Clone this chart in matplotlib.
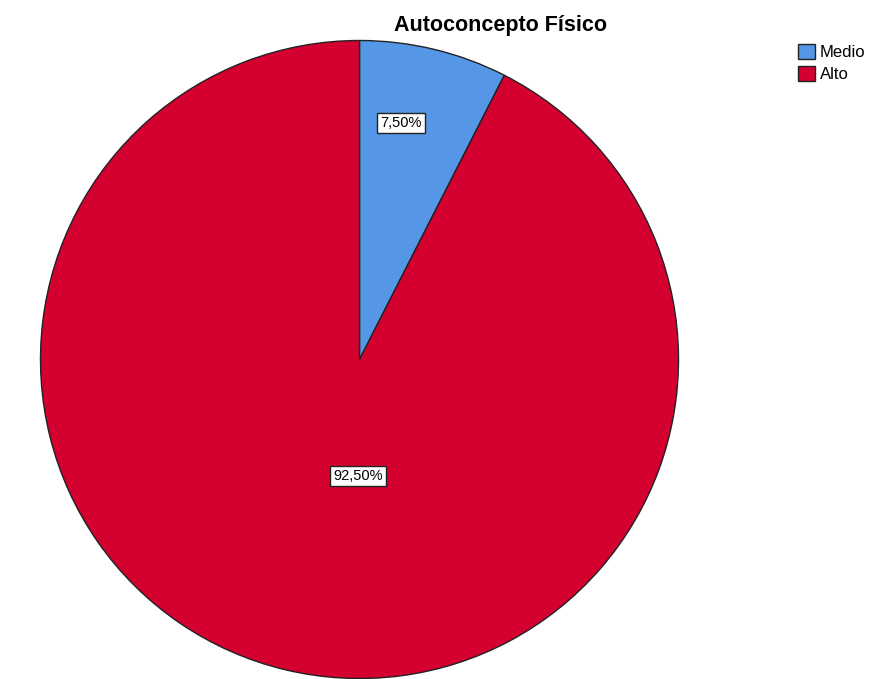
import matplotlib
matplotlib.use("Agg")
import matplotlib.pyplot as plt
from matplotlib.patches import Patch

categories = ["Medio", "Alto"]
values = [7.5, 92.5]
labels = ["7,50%", "92,50%"]
colors = ["#5597E6", "#D40030"]
title = "Autoconcepto Físico"

plt.rcParams['font.family'] = ['Liberation Sans', 'DejaVu Sans']

W, H = 871, 679
fig = plt.figure(figsize=(W / 100, H / 100), dpi=100)
cx, cy, r = 359.5, 359.5, 319
ax = fig.add_axes([(cx - r) / W, (H - cy - r) / H, 2 * r / W, 2 * r / H])
wedges, _ = ax.pie(values, colors=colors, startangle=90, counterclock=False,
                   radius=1.0, wedgeprops=dict(edgecolor="#222222", linewidth=1.0))
ax.set_xlim(-1, 1)
ax.set_ylim(-1, 1)
ax.set_aspect("equal")
ax.axis("off")

# label positions (relative to pie radius)
label_pos = [(0.130, 0.741), (-0.005, -0.364)]
for (x, y), t in zip(label_pos, labels):
    ax.text(x, y, t, ha="center", va="center", fontsize=10.5,
            bbox=dict(boxstyle="square,pad=0.2", facecolor="white",
                      edgecolor="#222222", linewidth=1.0))

fig.text(500 / W, 1 - 25 / H, title, ha="center", va="center",
         fontsize=15.5, fontweight="bold")

handles = [Patch(facecolor=c, edgecolor="#222222", linewidth=1.0) for c in colors]
fig.legend(handles, categories, loc="upper left", bbox_to_anchor=(798 / W, 1 - 44 / H),
           frameon=False, fontsize=12, handlelength=1.0, handleheight=1.0,
           handletextpad=0.3, labelspacing=0.35, borderaxespad=0, borderpad=0)

fig.savefig("out.png", dpi=100)
